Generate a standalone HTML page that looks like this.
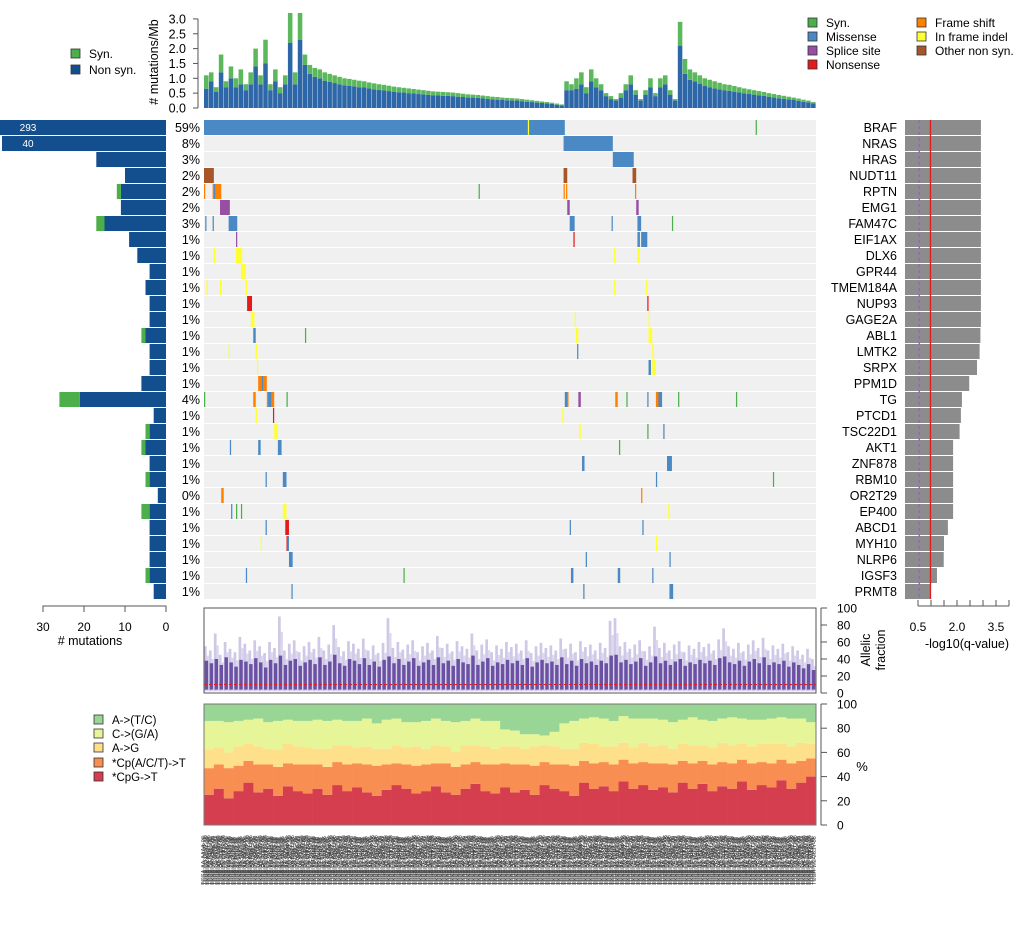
<!DOCTYPE html>
<html><head><meta charset="utf-8"><style>
html,body{margin:0;padding:0;background:#fff;}
svg{display:block;font-family:"Liberation Sans",sans-serif;}
</style></head><body>
<svg id="chart" width="1020" height="936" viewBox="0 0 1020 936" xmlns="http://www.w3.org/2000/svg">
<rect x="0" y="0" width="1020" height="936" fill="#fff"/>
<g id="top-panel"></g>
<g id="matrix"></g>
<g id="left-panel"></g>
<g id="right-panel"></g>
<g id="af-panel"></g>
<g id="spec-panel"></g>
<g id="labels-panel"></g>
<g id="legends"></g>
</svg>
<script>
const genes = ["BRAF","NRAS","HRAS","NUDT11","RPTN","EMG1","FAM47C","EIF1AX","DLX6","GPR44","TMEM184A","NUP93","GAGE2A","ABL1","LMTK2","SRPX","PPM1D","TG","PTCD1","TSC22D1","AKT1","ZNF878","RBM10","OR2T29","EP400","ABCD1","MYH10","NLRP6","IGSF3","PRMT8"];
const pctLabels = ["59%","8%","3%","2%","2%","2%","3%","1%","1%","1%","1%","1%","1%","1%","1%","1%","1%","4%","1%","1%","1%","1%","1%","0%","1%","1%","1%","1%","1%","1%"];
const nonSynCounts = [293,40,17,10,11,11,15,9,7,4,5,4,4,5,4,4,6,21,3,4,5,4,4,2,4,4,4,4,4,3];
const synCounts = [0,0,0,0,1,0,2,0,0,0,0,0,0,1,0,0,0,5,0,1,1,0,1,0,2,0,0,0,1,0];
const qValues = [2.92,2.92,2.92,2.92,2.92,2.92,2.92,2.92,2.92,2.92,2.92,2.92,2.92,2.9,2.87,2.77,2.47,2.19,2.15,2.1,1.85,1.85,1.85,1.85,1.85,1.65,1.5,1.49,1.23,0.98];
const qTicks = [0.5,1.0,1.5,2.0,2.5,3.0,3.5,4.0];
const qTickLabels = ["0.5","","","2.0","","","3.5",""];
const countTicks = [30,20,10,0];
const nSamples = 497;
// marks: [geneIndex, startSample, endSample, type]
const marks = [
[0,0,292,"mis"],[0,263,263,"ifi"],[0,448,448,"syn"],
[1,292,331,"mis"],[2,332,348,"mis"],
[3,0,7,"oth"],[3,292,294,"oth"],[3,348,350,"oth"],
[4,0,0,"fs"],[4,7,13,"fs"],[4,8,8,"mis"],[4,223,223,"syn"],[4,292,292,"fs"],[4,294,294,"fs"],[4,350,350,"fs"],
[5,13,20,"spl"],[5,295,296,"spl"],[5,351,352,"spl"],
[6,1,1,"mis"],[6,7,7,"mis"],[6,20,26,"mis"],[6,297,300,"mis"],[6,331,331,"mis"],[6,352,354,"mis"],[6,380,380,"syn"],
[7,26,26,"spl"],[7,300,300,"non"],[7,352,353,"mis"],[7,355,359,"mis"],
[8,8,8,"ifi"],[8,26,30,"ifi"],[8,333,333,"ifi"],[8,352,353,"ifi"],
[9,30,33,"ifi"],
[10,2,2,"ifi"],[10,13,13,"ifi"],[10,34,34,"ifi"],[10,333,333,"ifi"],[10,359,359,"ifi"],
[11,35,38,"non"],[11,360,360,"non"],
[12,38,40,"ifi"],[12,301,301,"ifi"],[12,361,361,"ifi"],
[13,40,41,"mis"],[13,82,82,"syn"],[13,302,303,"ifi"],[13,361,363,"ifi"],
[14,20,20,"ifi"],[14,42,42,"ifi"],[14,303,303,"mis"],[14,364,364,"ifi"],
[15,43,43,"ifi"],[15,361,362,"mis"],[15,364,366,"ifi"],
[16,44,50,"fs"],[16,47,47,"mis"],
[17,0,0,"syn"],[17,40,41,"fs"],[17,51,51,"fs"],[17,52,54,"mis"],[17,55,56,"fs"],[17,67,67,"syn"],[17,293,295,"mis"],[17,295,295,"fs"],[17,304,305,"spl"],[17,334,335,"fs"],[17,343,343,"syn"],[17,360,360,"mis"],[17,367,369,"fs"],[17,369,371,"mis"],[17,385,385,"syn"],[17,432,432,"syn"],
[18,42,42,"ifi"],[18,56,56,"non"],[18,291,291,"ifi"],
[19,57,59,"ifi"],[19,305,305,"ifi"],[19,360,360,"syn"],[19,373,373,"mis"],
[20,21,21,"mis"],[20,44,45,"mis"],[20,60,62,"mis"],[20,337,337,"syn"],
[21,307,308,"mis"],[21,376,379,"mis"],
[22,50,50,"mis"],[22,64,66,"mis"],[22,367,367,"mis"],[22,462,462,"syn"],
[23,14,15,"fs"],[23,355,355,"fs"],
[24,22,22,"mis"],[24,26,26,"syn"],[24,30,30,"syn"],[24,64,66,"ifi"],[24,377,377,"ifi"],
[25,50,50,"mis"],[25,66,68,"non"],[25,297,297,"mis"],[25,356,356,"mis"],
[26,46,46,"ifi"],[26,67,67,"non"],[26,68,68,"mis"],[26,367,367,"ifi"],
[27,69,71,"mis"],[27,310,310,"mis"],[27,378,378,"mis"],
[28,34,34,"mis"],[28,162,162,"syn"],[28,298,299,"mis"],[28,336,337,"mis"],[28,364,364,"mis"],
[29,71,71,"mis"],[29,308,308,"mis"],[29,378,380,"mis"]
];
const topTotal = [1.1,1.2,0.7,1.8,0.9,1.4,1.0,1.3,0.8,1.2,2.0,1.1,2.3,0.8,1.3,0.7,1.1,3.2,1.2,3.2,1.8,1.45,1.35,1.3,1.2,1.15,1.1,1.05,1.0,0.98,0.95,0.92,0.9,0.86,0.83,0.8,0.78,0.75,0.72,0.7,0.68,0.66,0.64,0.62,0.6,0.58,0.56,0.55,0.54,0.53,0.52,0.5,0.48,0.46,0.45,0.44,0.42,0.4,0.38,0.37,0.35,0.34,0.33,0.32,0.3,0.28,0.26,0.24,0.22,0.2,0.18,0.15,0.12,0.9,0.8,1.0,1.2,0.7,1.3,1.0,0.8,0.5,0.4,0.3,0.5,0.8,1.1,0.6,0.3,0.6,1.0,0.5,1.0,1.1,0.6,0.3,2.9,1.65,1.3,1.2,1.1,1.0,0.95,0.9,0.85,0.8,0.78,0.74,0.7,0.66,0.63,0.6,0.57,0.54,0.5,0.47,0.44,0.41,0.38,0.35,0.32,0.28,0.25,0.2];
const topSyn = [0.45,0.3,0.15,0.6,0.2,0.4,0.3,0.5,0.2,0.4,0.6,0.3,0.8,0.2,0.4,0.2,0.3,1.0,0.4,0.9,0.35,0.3,0.3,0.3,0.28,0.27,0.26,0.25,0.24,0.23,0.22,0.22,0.21,0.2,0.2,0.19,0.19,0.18,0.17,0.17,0.16,0.16,0.15,0.15,0.14,0.14,0.13,0.13,0.13,0.12,0.12,0.12,0.11,0.11,0.1,0.1,0.1,0.09,0.09,0.09,0.08,0.08,0.08,0.07,0.07,0.07,0.06,0.06,0.05,0.05,0.04,0.04,0.03,0.3,0.2,0.35,0.4,0.2,0.4,0.3,0.2,0.1,0.1,0.05,0.15,0.2,0.3,0.15,0.05,0.15,0.3,0.1,0.3,0.3,0.15,0.05,0.8,0.5,0.35,0.3,0.28,0.26,0.25,0.24,0.22,0.21,0.2,0.19,0.18,0.17,0.16,0.15,0.14,0.13,0.12,0.12,0.11,0.1,0.09,0.08,0.08,0.07,0.06,0.05];
const topTicks = [0,0.5,1.0,1.5,2.0,2.5,3.0];
const afHi = [55,50,70,45,60,52,48,66,58,50,62,55,47,60,53,90,50,58,62,48,55,60,52,66,50,57,80,54,49,61,58,52,64,50,56,47,59,88,53,60,51,57,62,48,55,59,50,67,53,58,49,61,55,52,70,50,57,63,48,56,52,60,54,58,50,62,47,55,59,53,56,50,64,52,58,48,61,54,57,50,59,53,85,88,55,60,52,57,62,49,55,78,53,59,50,57,61,48,56,52,60,54,58,50,63,76,55,52,59,49,57,62,53,65,50,56,52,58,48,55,50,45,52,40];
const afMed = [38,35,40,33,42,36,31,39,37,34,41,36,30,39,35,44,33,38,40,32,36,39,34,42,33,37,45,35,32,40,38,34,41,33,37,31,39,43,35,40,33,37,41,32,36,39,33,42,35,38,32,40,36,34,44,33,37,41,32,36,34,39,35,38,33,41,31,36,39,35,37,33,42,34,38,32,40,35,37,33,38,35,44,45,36,39,34,37,41,32,36,43,35,38,33,37,40,32,36,34,39,35,38,33,41,43,36,34,38,32,37,40,35,42,33,36,34,38,31,36,33,29,34,27];
const afTicks = [0,20,40,60,80,100];
const specCpG = [25,30,22,28,35,27,30,24,32,28,26,30,25,33,28,31,27,24,29,33,30,26,28,32,27,25,30,34,28,26,31,27,29,25,33,30,28,24,35,30,32,28,36,30,33,29,31,27,35,30,34,28,32,30,36,29,33,31,37,30,35,40];
const specCpA = [22,20,25,21,18,23,20,24,19,22,24,20,23,19,22,20,23,25,21,18,20,23,22,19,24,23,20,18,22,24,20,23,21,24,19,20,22,25,18,21,20,22,18,21,19,22,20,23,18,21,19,22,20,21,18,22,19,20,17,21,18,15];
const specAG = [15,14,13,16,14,15,13,14,16,15,14,13,15,14,16,13,15,14,13,15,14,16,13,15,14,13,16,14,15,13,14,15,13,16,14,15,13,14,15,16,13,15,14,13,16,14,15,13,14,15,13,14,16,15,13,14,15,16,13,14,15,12];
const specCGA = [24,22,25,21,20,23,22,24,20,21,22,24,23,21,20,22,23,21,24,22,21,20,23,22,21,24,20,22,21,23,14,13,12,10,8,12,21,23,20,22,23,21,22,24,20,23,21,22,20,23,21,22,20,23,21,22,20,21,22,23,20,18];
const specTicks = [0,20,40,60,80,100];

const NS = "http://www.w3.org/2000/svg";
function mk(parent, tag, attrs, text){
  const e = document.createElementNS(NS, tag);
  for (const k in attrs) e.setAttribute(k, attrs[k]);
  if (text !== undefined) e.textContent = text;
  parent.appendChild(e);
  return e;
}
const COL = {mis:"#4a89c3", syn:"#4daf4a", spl:"#984ea3", non:"#e41a1c", fs:"#ff7f00", ifi:"#ffff33", oth:"#a65628"};
const MX0 = 204, MX1 = 816, RY0 = 120, RH = 16;
const sx = s => MX0 + s * (MX1 - MX0) / nSamples;
const ry = i => RY0 + i * RH;

// ---------- matrix ----------
const mat = document.getElementById("matrix");
genes.forEach((g,i)=>{
  const r = mk(mat,"rect",{x:MX0,y:ry(i),width:MX1-MX0,height:RH-1,fill:"#f0f0f0"});
  
  
});
marks.forEach(m=>{
  const x0 = sx(m[1]), x1 = sx(m[2]+1);
  const r = mk(mat,"rect",{x:x0.toFixed(2),y:ry(m[0]),width:Math.max(1.2,x1-x0).toFixed(2),height:RH-1,fill:COL[m[3]]});
  
  
});

// ---------- left count panel ----------
const lp = document.getElementById("left-panel");
const cx = v => 166 - v * 4.1;
genes.forEach((g,i)=>{
  const y = ry(i);
  const x0 = Math.max(0, cx(nonSynCounts[i]));
  const b = mk(lp,"rect",{x:x0,y:y,width:166-x0,height:RH-1,fill:"#134f8e"});
  
  
  if (synCounts[i]>0){
    const xs = cx(nonSynCounts[i]+synCounts[i]);
    const s = mk(lp,"rect",{x:xs,y:y,width:x0-xs,height:RH-1,fill:"#4daf4a"});
    
    
  }
  if (cx(nonSynCounts[i]) < 10 || nonSynCounts[i] >= 40){
    const t = mk(lp,"text",{x:28,y:y+11,fill:"#fff","font-size":10,"text-anchor":"middle"},String(nonSynCounts[i]));
    
    
  }
  const p = mk(lp,"text",{x:200,y:y+12,"font-size":12.5,"text-anchor":"end",fill:"#000"},pctLabels[i]);
  
  
});
const la = mk(lp,"path",{d:`M${cx(30)},612 V606 H166 V612`,stroke:"#555",fill:"none"});


countTicks.forEach(v=>{
  mk(lp,"line",{x1:cx(v),x2:cx(v),y1:606,y2:612,stroke:"#555"});
  const t = mk(lp,"text",{x:cx(v),y:631,"font-size":12,"text-anchor":"middle"},String(v));
  
  
});
const lt = mk(lp,"text",{x:90,y:645,"font-size":12.5,"text-anchor":"middle"},"# mutations");



// ---------- right q panel ----------
const rp = document.getElementById("right-panel");
const qx = v => 905 + v * 26;
genes.forEach((g,i)=>{
  const y = ry(i);
  const t = mk(rp,"text",{x:897,y:y+12,"font-size":12.5,"text-anchor":"end"},g);
  
  
  const b = mk(rp,"rect",{x:905,y:y,width:qx(qValues[i])-905,height:RH-1,fill:"#8c8c8c"});
  
  
});
const pl = mk(rp,"line",{x1:qx(0.55),x2:qx(0.55),y1:RY0,y2:ry(30)-1,stroke:"#9a5fd0","stroke-width":1.5,"stroke-dasharray":"3,3"});


const rl = mk(rp,"line",{x1:qx(0.98),x2:qx(0.98),y1:RY0,y2:ry(30)-1,stroke:"#e41a1c","stroke-width":1.3});


mk(rp,"line",{x1:qx(qTicks[0]),x2:qx(qTicks[qTicks.length-1]),y1:606,y2:606,stroke:"#555"});
qTicks.forEach((v,i)=>{
  mk(rp,"line",{x1:qx(v),x2:qx(v),y1:600,y2:606,stroke:"#555"});
  if (qTickLabels[i]){
    const t = mk(rp,"text",{x:qx(v),y:631,"font-size":12,"text-anchor":"middle"},qTickLabels[i]);
    
    
  }
});
const qt = mk(rp,"text",{x:967,y:648,"font-size":12.5,"text-anchor":"middle"},"-log10(q-value)");



// ---------- top mutation rate panel ----------
const tp = document.getElementById("top-panel");
const TB = 108, tyScale = 29.7;
const gw = (MX1-MX0)/topTotal.length;
topTotal.forEach((v,i)=>{
  const x = MX0 + i*gw;
  const ns = v - topSyn[i];
  const b = mk(tp,"rect",{x:x.toFixed(2),y:(TB-ns*tyScale).toFixed(2),width:(gw-0.4).toFixed(2),height:(ns*tyScale).toFixed(2),fill:"#2e67a8"});
  
  
  const s = mk(tp,"rect",{x:x.toFixed(2),y:(TB-v*tyScale).toFixed(2),width:(gw-0.4).toFixed(2),height:(topSyn[i]*tyScale).toFixed(2),fill:"#5cb85c"});
  
  
});
mk(tp,"line",{x1:198,x2:198,y1:TB,y2:TB-3*tyScale,stroke:"#555"});
topTicks.forEach(v=>{
  const y = TB - v*tyScale;
  mk(tp,"line",{x1:193,x2:198,y1:y,y2:y,stroke:"#555"});
  const t = mk(tp,"text",{x:186,y:y+4.5,"font-size":12.5,"text-anchor":"end"},v.toFixed(1));
  
  
});
const tt = mk(tp,"text",{x:0,y:0,"font-size":12.5,"text-anchor":"middle",transform:"translate(158,62) rotate(-90)"},"# mutations/Mb");



// ---------- allelic fraction panel ----------
const ap = document.getElementById("af-panel");
const AY0 = 693, AY1 = 608;
const ay = v => AY0 - v*(AY0-AY1)/100;
const aw = (MX1-MX0)/afHi.length;
afHi.forEach((v,i)=>{
  const x = MX0 + i*aw;
  const l = mk(ap,"rect",{x:x.toFixed(2),y:ay(v).toFixed(2),width:(aw*0.55).toFixed(2),height:(ay(2)-ay(v)).toFixed(2),fill:"#cfc8e6"});
  
  
  const l2 = mk(ap,"rect",{x:(x+aw*0.5).toFixed(2),y:ay(v*0.8).toFixed(2),width:(aw*0.5).toFixed(2),height:(ay(2)-ay(v*0.8)).toFixed(2),fill:"#ddd8ee"});
  
  
  const d = mk(ap,"rect",{x:(x+aw*0.15).toFixed(2),y:ay(afMed[i]).toFixed(2),width:(aw*0.7).toFixed(2),height:(ay(4)-ay(afMed[i])).toFixed(2),fill:"#6a51a3"});
  
  
});
mk(ap,"line",{x1:MX0,x2:MX1,y1:ay(10),y2:ay(10),stroke:"#e41a1c","stroke-dasharray":"3,2","stroke-width":1});
const ab = mk(ap,"rect",{x:MX0,y:AY1,width:MX1-MX0,height:AY0-AY1,fill:"none",stroke:"#555"});


mk(ap,"line",{x1:821,x2:821,y1:AY1,y2:AY0,stroke:"#555"});
afTicks.forEach(v=>{
  mk(ap,"line",{x1:821,x2:827,y1:ay(v),y2:ay(v),stroke:"#555"});
  const t = mk(ap,"text",{x:837,y:ay(v)+4.5,"font-size":12},String(v));
  
  
});
const at1 = mk(ap,"text",{x:0,y:0,"font-size":12.5,"text-anchor":"middle",transform:"translate(870,650) rotate(-90)"},"Allelic");


const at2 = mk(ap,"text",{x:0,y:0,"font-size":12.5,"text-anchor":"middle",transform:"translate(885,650) rotate(-90)"},"fraction");



// ---------- spectrum panel ----------
const sp = document.getElementById("spec-panel");
const SY0 = 825, SY1 = 704;
const syy = v => SY0 - v*(SY0-SY1)/100;
const spw = (MX1-MX0)/specCpG.length;
const scol = ["#d53e4f","#f98e52","#fee08b","#e6f598","#99d594"];
const snames = ["cpg-t","cpacpt-t","a-g","c-ga","a-tc"];
specCpG.forEach((v,i)=>{
  const vals = [v, specCpA[i], specAG[i], specCGA[i]];
  vals.push(100 - vals.reduce((a,b)=>a+b,0));
  let acc = 0;
  const x = MX0 + i*spw;
  vals.forEach((p,k)=>{
    const r = mk(sp,"rect",{x:x.toFixed(2),y:syy(acc+p).toFixed(2),width:(spw+0.3).toFixed(2),height:(syy(acc)-syy(acc+p)).toFixed(2),fill:scol[k]});
    
    
    acc += p;
  });
});
const sb = mk(sp,"rect",{x:MX0,y:SY1,width:MX1-MX0,height:SY0-SY1,fill:"none",stroke:"#777"});


mk(sp,"line",{x1:821,x2:821,y1:SY1,y2:SY0,stroke:"#555"});
specTicks.forEach(v=>{
  mk(sp,"line",{x1:821,x2:827,y1:syy(v),y2:syy(v),stroke:"#555"});
  const t = mk(sp,"text",{x:837,y:syy(v)+4.5,"font-size":12},String(v));
  
  
});
const pt = mk(sp,"text",{x:862,y:771,"font-size":13,"text-anchor":"middle"},"%");



// ---------- sample labels ----------
const lb = document.getElementById("labels-panel");
const codes = "ABCDEFGHJKLMNPQRSTUVWXYZ0123456789";
for (let i=0;i<nSamples;i++){
  const id = "TCGA-" + codes[i%34] + codes[(i*7)%34] + "-" + codes[(i*3)%34] + codes[(i*5)%34] + codes[(i*11)%34] + codes[(i*13)%34] + "-06";
  const x = sx(i) + 1.2;
  const t = mk(lb,"text",{x:0,y:0,"font-size":5.5,fill:"#444",transform:`translate(${x.toFixed(2)},885) rotate(-90)`},id);
  
  
}

// ---------- legends ----------
const lg = document.getElementById("legends");
function legendItem(x,y,color,label,name,fs){
  const r = mk(lg,"rect",{x:x,y:y-8,width:9,height:9,fill:color,stroke:"#333","stroke-width":0.8});
  
  
  const t = mk(lg,"text",{x:x+18,y:y+1,"font-size":fs||12},label);
  
  
}
legendItem(71,57,"#4daf4a","Syn.","legend-syn-left");
legendItem(71,73,"#134f8e","Non syn.","legend-nonsyn-left");
legendItem(808,26,"#4daf4a","Syn.","legend-syn");
legendItem(808,40,"#4a89c3","Missense","legend-missense");
legendItem(808,54,"#984ea3","Splice site","legend-splice");
legendItem(808,68,"#e41a1c","Nonsense","legend-nonsense");
legendItem(917,26,"#ff7f00","Frame shift","legend-frameshift");
legendItem(917,40,"#ffff33","In frame indel","legend-inframe");
legendItem(917,54,"#a65628","Other non syn.","legend-other");
legendItem(94,723,"#99d594","A->(T/C)","legend-a-tc",11.5);
legendItem(94,737,"#e6f598","C->(G/A)","legend-c-ga",11.5);
legendItem(94,751,"#fee08b","A->G","legend-a-g",11.5);
legendItem(94,766,"#f98e52","*Cp(A/C/T)->T","legend-cpa-t",11.5);
legendItem(94,780,"#d53e4f","*CpG->T","legend-cpg-t",11.5);
</script>
</body></html>
